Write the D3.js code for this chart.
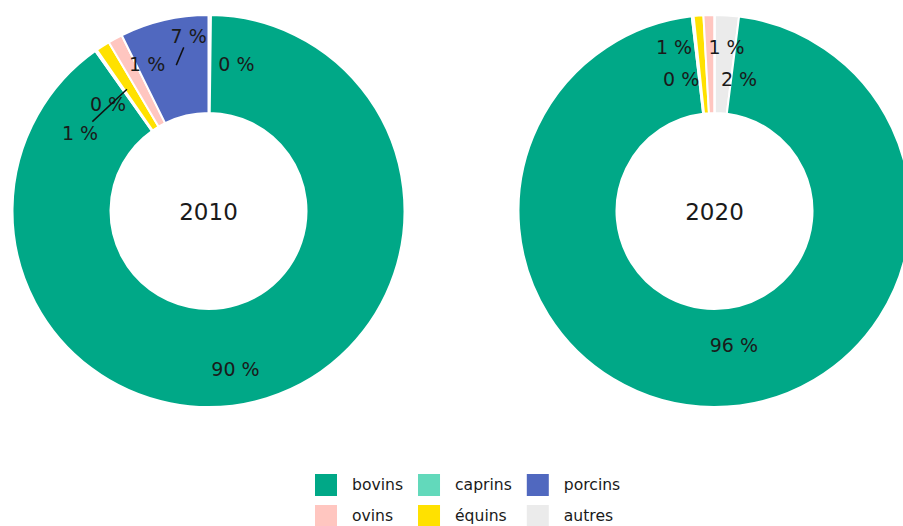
<!DOCTYPE html>
<html><head><meta charset="utf-8">
<script src="https://cdn.jsdelivr.net/npm/d3@7"></script>
<style>body{margin:0;background:#fff}svg{display:block}</style>
</head><body>
<svg id="c" width="903" height="526"></svg>
<script>
// ---- data ----
const categories = ["autres", "bovins", "caprins", "équins", "ovins", "porcins"]; // clockwise from 12 o'clock
const years = ["2010", "2020"];
const values2010 = [0.2, 90.0, 0.15, 1.15, 1.2, 7.3];
const values2020 = [2.0, 96.15, 0.15, 0.8, 0.9, 0.0];
const legendOrder = ["bovins", "caprins", "porcins", "ovins", "équins", "autres"];
const palette = ["#ebebeb", "#00a887", "#62d9bb", "#ffe100", "#ffc6c0", "#5068bf"];

// ---- layout (not data) ----
const R = 196, R0 = 98;
const centers = [[208.5, 211], [714.5, 211]];
const labelNudges = [
  {autres: [27, 0], bovins: [-16.7, 18.1], caprins: [-16.2, 13.8], "équins": [-49.1, 45.9], ovins: [8.7, -17.3], porcins: [13.5, -32]},
  {autres: [15.3, 14.7], bovins: [20, -13], caprins: [-17, 14], "équins": [-28.5, -17], ovins: [16.2, -16.6], porcins: [0, 0]}
];
const leaders = [["équins", "porcins"], []];
const FONT = "DejaVu Sans, Verdana, sans-serif";

const svg = d3.select("#c");
const color = d3.scaleOrdinal().domain(categories).range(palette);
const pie = d3.pie().sort(null).value(d => d.value).startAngle(0).endAngle(2 * Math.PI);
const arc = d3.arc().innerRadius(R0).outerRadius(R);
const midArc = d3.arc().innerRadius((R + R0) / 2).outerRadius((R + R0) / 2);
const fmt = v => d3.format(".0f")(v) + " %";

[values2010, values2020].forEach((vals, i) => {
  const data = categories.map((c, k) => ({cat: c, value: vals[k]}));
  const g = svg.append("g").attr("transform", `translate(${centers[i][0]},${centers[i][1]})`);
  const arcs = pie(data);
  g.selectAll("path").data(arcs).join("path")
    .attr("d", arc)
    .attr("fill", d => color(d.data.cat))
    .attr("stroke", "#fff").attr("stroke-width", 2).attr("stroke-linejoin", "round");

  g.append("text").text(years[i])
    .attr("text-anchor", "middle").attr("dy", "0.36em").attr("y", 1)
    .style("font-family", FONT).style("font-size", "23px").attr("fill", "#1a1a1a");

  const labelled = arcs.filter(d => d.data.value > 0);
  labelled.forEach(d => {
    const [bx, by] = midArc.centroid(d);
    const nd = labelNudges[i][d.data.cat] || [0, 0];
    const tx = bx + nd[0], ty = by + nd[1];
    const t = g.append("text").text(fmt(d.data.value))
      .attr("x", tx).attr("y", ty).attr("dy", "0.36em")
      .attr("text-anchor", "middle")
      .style("font-family", FONT).style("font-size", "19px").attr("fill", "#1a1a1a");
    if (leaders[i].includes(d.data.cat)) {
      const bb = t.node().getBBox();
      const hw = bb.width / 2 + 4, hh = 7.5 + 4;
      const dx = bx - tx, dy = by - ty;
      const s = Math.min(hw / Math.abs(dx || 1e-6), hh / Math.abs(dy || 1e-6));
      const len = Math.hypot(dx, dy);
      const sx = tx + s * dx, sy = ty + s * dy;
      const ex = bx - dx / len * 3, ey = by - dy / len * 3;
      g.append("line").attr("x1", sx).attr("y1", sy).attr("x2", ex).attr("y2", ey)
        .attr("stroke", "#111").attr("stroke-width", 1.5);
    }
  });
});

// ---- legend ----
const lg = svg.append("g");
const sq = 22, gapTxt = 15, gapCol = 15, ncol = 3;
const rowY = [474, 505];
const tmp = svg.append("text").style("font-family", FONT).style("font-size", "15.6px");
const tw = s => { tmp.text(s); return tmp.node().getComputedTextLength(); };
const colW = d3.range(ncol).map(c => d3.max(legendOrder.filter((_, k) => k % ncol === c), tw));
tmp.remove();
let xs = [315];
for (let c = 1; c < ncol; c++) xs.push(xs[c - 1] + sq + gapTxt + colW[c - 1] + gapCol);
legendOrder.forEach((cat, k) => {
  const c = k % ncol, r = Math.floor(k / ncol);
  lg.append("rect").attr("x", xs[c]).attr("y", rowY[r]).attr("width", sq).attr("height", sq)
    .attr("fill", color(cat));
  lg.append("text").text(cat).attr("x", xs[c] + sq + gapTxt).attr("y", rowY[r] + sq / 2)
    .attr("dy", "0.35em").style("font-family", FONT).style("font-size", "15.6px").attr("fill", "#1a1a1a");
});
</script>
</body></html>
